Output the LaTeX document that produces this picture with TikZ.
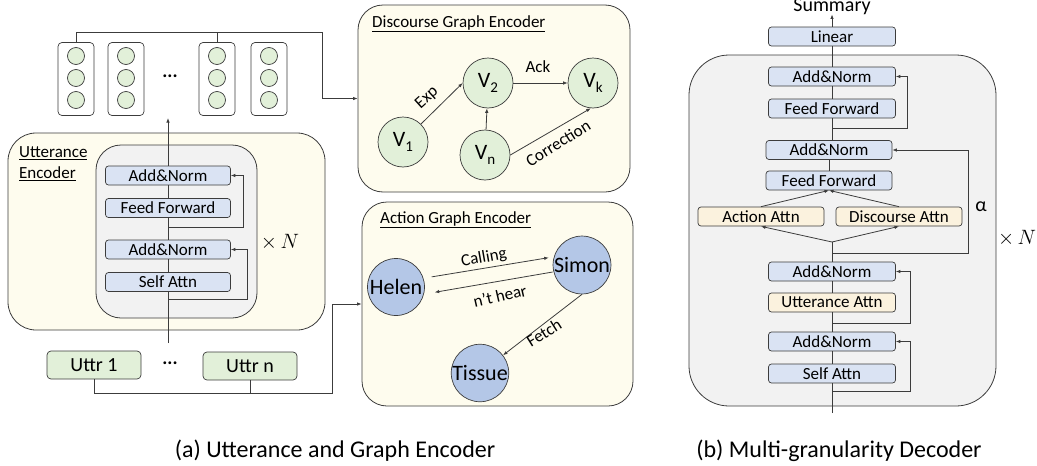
\documentclass[tikz,border=0pt]{standalone}
\usepackage{fontspec}
\setmainfont{Carlito}
\usetikzlibrary{arrows.meta,calc}
\definecolor{cream}{RGB}{254,252,238}
\definecolor{panelgray}{RGB}{242,242,242}
\definecolor{blockblue}{RGB}{218,227,243}
\definecolor{grn}{RGB}{226,240,217}
\definecolor{nblue}{RGB}{180,199,231}
\definecolor{attnyellow}{RGB}{251,242,222}
\definecolor{edge}{RGB}{60,60,60}
\newcommand{\fsz}[2]{\fontsize{#1}{#2}\selectfont}
\newcommand{\vsub}[1]{V\raisebox{-0.45ex}{\fsz{15}{15}#1}}
\tikzset{
  line/.style={draw=edge, line width=0.8pt},
  arr/.style={line, -{Latex[length=4.5pt,width=3.5pt]}},
  rarr/.style={line, {Latex[length=4.5pt,width=3.5pt]}-},
  panel/.style={draw=edge, line width=0.8pt, fill=cream, rounded corners=28pt, inner sep=0pt},
  block/.style={draw=edge, line width=0.7pt, fill=blockblue, rounded corners=3pt, minimum width=125pt, minimum height=19pt, inner sep=0pt, font=\fsz{17}{20}},
  attn/.style={block, fill=attnyellow},
  vecbox/.style={draw=edge, line width=0.7pt, fill=white, rounded corners=4pt, minimum width=36pt, minimum height=73pt, inner sep=0pt},
  vdot/.style={circle, draw=edge, line width=0.7pt, fill=grn, minimum size=17pt, inner sep=0pt},
  gnode/.style={circle, draw=edge, line width=0.7pt, fill=grn, minimum size=50pt, inner sep=0pt, font=\fsz{22}{24}},
  anode/.style={circle, draw=edge, line width=0.7pt, fill=nblue, minimum size=57pt, inner sep=0pt, font=\fsz{22}{24}},
  uttr/.style={draw=edge, line width=0.7pt, fill=grn, rounded corners=4pt, minimum width=94pt, minimum height=28pt, inner sep=0pt, font=\fsz{20}{22}},
  elabel/.style={font=\fsz{17}{20}, inner sep=0pt},
  title/.style={font=\fsz{17}{20}, inner sep=0pt, anchor=west},
  caption/.style={font=\fsz{24}{28}, inner sep=0pt, anchor=base},
}
\begin{document}
\begin{tikzpicture}[x=1pt,y=-1pt]
\useasboundingbox (0,0) rectangle (1037,466);

% ---------- Left: utterance encoder ----------
\node[panel, minimum width=317pt, minimum height=197pt] (uenc) at (166.5,231.5) {};
\node[panel, fill=panelgray, rounded corners=25pt, minimum width=161pt, minimum height=173pt] (ugray) at (176.5,231.5) {};
\node[title, align=left, font=\fsz{17}{21}] (ulabel) at (19,164) {\underline{Utterance}\\\underline{Encoder}};

\node[block] (uan1) at (168,175.5) {Add\&Norm};
\node[block] (uff)  at (168,208) {Feed Forward};
\node[block] (uan2) at (168,249.5) {Add\&Norm};
\node[block] (usa)  at (168,282) {Self Attn};
\node[font=\fsz{20}{24}, inner sep=0pt] (uxn) at (280,242) {$\times\,N$};

\coordinate (uin) at (168,343);
\coordinate (vtop) at (168,118);
\draw[line] (uin) -- (usa);
\draw[line] (usa) -- (uan2);
\draw[line] (uan2) -- (uff);
\draw[line] (uff) -- (uan1);
\draw[arr] (uan1) -- (vtop);
\coordinate (ur1) at (168,227);
\coordinate (ur2) at (168,299);
\draw[arr] (ur1) -- ++(75,0) |- (uan1.east);
\draw[arr] (ur2) -- ++(79,0) |- (uan2.east);

% vectors
\foreach \i/\x in {1/76,2/126,3/217,4/269} {
  \node[vecbox] (b\i) at (\x,79) {};
  \foreach \j/\y in {1/56,2/78,3/100} \node[vdot] (b\i c\j) at (\x,\y) {};
}
\node[font=\bfseries\fsz{19}{22}, inner sep=0pt] (vdots) at (170,76) {...};

% utterances
\node[uttr] (u1) at (94,365) {Uttr 1};
\node[font=\bfseries\fsz{19}{22}, inner sep=0pt] (udots) at (170,363) {...};
\node[uttr] (un) at (250,366) {Uttr n};

% ---------- Discourse graph encoder ----------
\node[panel, rounded corners=25pt, minimum width=272pt, minimum height=187pt] (disc) at (494,98.5) {};
\node[title] (dtitle) at (372,24) {\underline{Discourse Graph Encoder}};
\node[gnode] (v1) at (403,142) {\vsub{1}};
\node[gnode] (v2) at (488,83) {\vsub{2}};
\node[gnode] (vk) at (593,83) {\vsub{k}};
\node[gnode] (vn) at (485,155) {\vsub{n}};
\draw[arr] (v1.45) -- (v2.west);
\draw[arr] (v2) -- (vk);
\draw[arr] (vn) -- (v2);
\draw[arr] (vn.east) -- (vk.265);
\node[elabel, rotate=42] (lexp) at (427,98) {Exp};
\node[elabel] (lack) at (538,67) {Ack};
\node[elabel, rotate=32] (lcor) at (558,143) {Correction};

% ---------- Action graph encoder ----------
\node[panel, rounded corners=25pt, minimum width=271pt, minimum height=204pt] (act) at (497.5,304) {};
\node[title] (atitle) at (380,220) {\underline{Action Graph Encoder}};
\node[anode] (helen) at (396,287) {Helen};
\node[anode] (simon) at (582,265) {Simon};
\node[anode] (tissue) at (480,373) {Tissue};
\draw[arr, shorten <=7pt, shorten >=4pt] ([yshift=9pt]helen.east) -- ([yshift=8pt]simon.west);
\draw[rarr, shorten <=10pt] ([yshift=-7pt]helen.east) -- ([yshift=-7pt]simon.west);
\draw[rarr] (tissue) -- (simon.south);
\node[elabel, rotate=10] (lcall) at (484,258) {Calling};
\node[elabel, rotate=13] (lhear) at (500,296) {n’t hear};
\node[elabel, rotate=32] (lfetch) at (544,333) {Fetch};

% connectors from left part
\coordinate (tjoin) at (322,32);
\draw[arr] (b1.north) |- (tjoin) |- (disc.west);
\draw[line] (b3.north) -- (b3.north |- tjoin);
\coordinate (ajoin) at (332,393);
\draw[arr] (u1.south) |- (ajoin) |- (act.west);
\draw[line] (un.south) -- (un.south |- ajoin);

% ---------- Decoder ----------
\node[panel, fill=panelgray, rounded corners=40pt, minimum width=307pt, minimum height=351pt] (dec) at (842.5,230.5) {};
\node[font=\fsz{20}{24}, inner sep=0pt, anchor=base] (summ) at (832,11) {Summary};
\node[block, minimum width=127pt] (lin) at (832,36.5) {Linear};
\node[block, minimum width=127pt] (dan1) at (832,76.5) {Add\&Norm};
\node[block, minimum width=127pt] (dff1) at (832,108.5) {Feed Forward};
\node[block, minimum width=126pt] (dan2) at (829,150) {Add\&Norm};
\node[block, minimum width=126pt] (dff2) at (829,180.5) {Feed Forward};
\node[attn, minimum width=126pt] (daa) at (761,216.5) {Action Attn};
\node[attn, minimum width=126pt] (dda) at (899,216.5) {Discourse Attn};
\node[block, minimum width=127pt] (dan3) at (832,271.5) {Add\&Norm};
\node[attn, minimum width=127pt] (dua) at (832,302.5) {Utterance Attn};
\node[block, minimum width=127pt] (dan4) at (832,341.5) {Add\&Norm};
\node[block, minimum width=127pt] (dsa) at (832,373.5) {Self Attn};
\node[font=\fsz{20}{24}, inner sep=0pt] (alpha) at (981,207) {α};
\node[font=\fsz{20}{24}, inner sep=0pt] (dxn) at (1017,238) {$\times\,N$};

\draw[arr] (lin) -- (summ);
\draw[line] (dan1) -- (lin);
\draw[line] (dff1) -- (dan1);
\draw[line] (dff1.south) -- (dff1.south |- dan2.north);
\draw[line] (dff2) -- (dan2);
\draw[arr] (daa.north) -- (dff2.south);
\draw[arr] (dda.north) -- (dff2.south);
\coordinate (dsp) at (832,242);
\draw[arr] (dsp) -- (daa.south);
\draw[arr] (dsp) -- (dda.south);
\draw[line] (dan3) -- (dsp);
\draw[line] (dua) -- (dan3);
\draw[line] (dan4) -- (dua);
\draw[line] (dsa) -- (dan4);
\coordinate (din) at (832,413);
\draw[line] (din) -- (dsa);
\coordinate (dr1) at (832,128);
\coordinate (dr2) at (832,253);
\coordinate (dr3) at (832,323);
\coordinate (dr4) at (832,391);
\draw[arr] (dr1) -- ++(75,0) |- (dan1.east);
\draw[arr] (dr2) -- ++(136,0) |- (dan2.east);
\draw[arr] (dr3) -- ++(78,0) |- (dan3.east);
\draw[arr] (dr4) -- ++(78,0) |- (dan4.east);

% captions
\node[caption] (capa) at (335,457) {(a) Utterance and Graph Encoder};
\node[caption] (capb) at (839,457) {(b) Multi-granularity Decoder};
\end{tikzpicture}
\end{document}
